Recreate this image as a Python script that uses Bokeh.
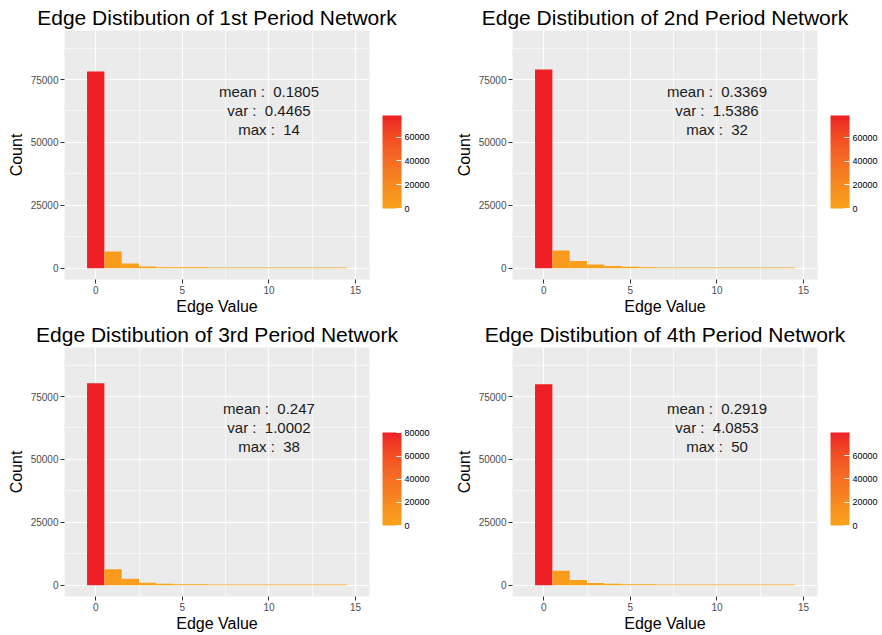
import numpy as np
from bokeh.plotting import figure
from bokeh.layouts import gridplot
from bokeh.models import ColumnDataSource, LinearColorMapper, ColorBar, FixedTicker, Label
from bokeh.transform import transform
from bokeh.core.properties import value
from bokeh.embed import file_html
from bokeh.resources import INLINE

# ---------------- data ----------------
edge_values = list(range(15))
counts_p1 = [78180, 6620, 1860, 680, 360, 340, 330, 320, 310, 300, 300, 290, 280, 280, 270]
counts_p2 = [78980, 7020, 2900, 1430, 910, 520, 330, 320, 310, 300, 300, 290, 280, 280, 270]
counts_p3 = [80290, 6350, 2510, 930, 530, 340, 330, 320, 310, 300, 300, 290, 280, 280, 270]
counts_p4 = [79890, 5690, 2100, 900, 520, 340, 330, 320, 310, 300, 300, 290, 280, 280, 270]
panel_counts = [counts_p1, counts_p2, counts_p3, counts_p4]
period_names = ["1st", "2nd", "3rd", "4th"]
means = ["0.1805", "0.3369", "0.247", "0.2919"]
variances = ["0.4465", "1.5386", "1.0002", "4.0853"]
maxima = ["14", "32", "38", "50"]
x_ticks = [0, 5, 10, 15]
x_minor = [2.5, 7.5, 12.5]
y_ticks = [0, 25000, 50000, 75000]
y_minor = [12500, 37500, 62500, 87500]
legend_step = 20000
legend_low = 0
x_lim = (-1, 15)
y_lim = (0, 90000)
ann_x, ann_y = 10, 62500

LOW = "#F8A31C"
HIGH = "#EE1F25"
FONT = "Liberation Sans"
NBSP = "\u00a0"


# ---------------- Lab gradient like ggplot ----------------
def hex2rgb(h):
    h = h.lstrip("#")
    return np.array([int(h[i:i + 2], 16) for i in (0, 2, 4)]) / 255.0


def srgb2lin(c):
    return np.where(c <= 0.04045, c / 12.92, ((c + 0.055) / 1.055) ** 2.4)


def lin2srgb(c):
    c = np.clip(c, 0, 1)
    return np.where(c <= 0.0031308, 12.92 * c, 1.055 * c ** (1 / 2.4) - 0.055)


M = np.array([[0.4124, 0.3576, 0.1805], [0.2126, 0.7152, 0.0722], [0.0193, 0.1192, 0.9505]])
Minv = np.linalg.inv(M)
WHITE = np.array([0.95047, 1.0, 1.08883])


def f(t):
    return np.where(t > (6 / 29) ** 3, np.cbrt(t), t / (3 * (6 / 29) ** 2) + 4 / 29)


def finv(t):
    return np.where(t > 6 / 29, t ** 3, 3 * (6 / 29) ** 2 * (t - 4 / 29))


def rgb2lab(rgb):
    xyz = M @ srgb2lin(rgb) / WHITE
    fx, fy, fz = f(xyz)
    return np.array([116 * fy - 16, 500 * (fx - fy), 200 * (fy - fz)])


def lab2hex(lab):
    L, a, b = lab
    fy = (L + 16) / 116
    xyz = np.array([finv(fy + a / 500), finv(fy), finv(fy - b / 200)]) * WHITE
    rgb = lin2srgb(Minv @ xyz)
    return "#%02x%02x%02x" % tuple(int(round(v * 255)) for v in rgb)


lab_lo, lab_hi = rgb2lab(hex2rgb(LOW)), rgb2lab(hex2rgb(HIGH))
palette = [lab2hex(lab_lo + (lab_hi - lab_lo) * t) for t in np.linspace(0, 1, 256)]


def expand(lim, frac=0.05):
    d = (lim[1] - lim[0]) * frac
    return (lim[0] - d, lim[1] + d)


FRAME_W, FRAME_H = 305, 249
CB_GAP, CB_W, CB_H, CB_BOTTOM = 13, 19, 93, 71


def make_panel(i, left_border, right_border, top_border, bottom_border):
    counts = panel_counts[i]
    xr, yr = expand(x_lim), expand(y_lim)
    p = figure(frame_width=FRAME_W, frame_height=FRAME_H,
               x_range=xr, y_range=yr,
               output_backend="svg", toolbar_location=None,
               min_border_left=left_border, min_border_right=right_border,
               min_border_top=top_border, min_border_bottom=bottom_border)
    p.title.text = "Edge Distibution of %s Period Network" % period_names[i]
    p.title.text_font = FONT
    p.title.text_font_size = "21px"
    p.title.text_font_style = "normal"
    p.title.align = "center"
    p.title.text_color = "black"
    p.title.standoff = 3
    p.title.offset = 0

    p.background_fill_color = "#EBEBEB"
    p.border_fill_color = "white"
    p.outline_line_color = None

    p.xaxis.ticker = FixedTicker(ticks=x_ticks, minor_ticks=x_minor)
    p.yaxis.ticker = FixedTicker(ticks=y_ticks, minor_ticks=y_minor)
    for g in (p.xgrid, p.ygrid):
        g.grid_line_color = "white"
        g.grid_line_width = 1.2
        g.minor_grid_line_color = "white"
        g.minor_grid_line_width = 0.6

    for ax in (p.xaxis, p.yaxis):
        ax.axis_line_color = None
        ax.major_tick_line_color = "#333333"
        ax.major_tick_out = 4
        ax.major_tick_in = 0
        ax.minor_tick_line_color = None
        ax.major_label_text_color = "#4D4D4D"
        ax.major_label_text_font = FONT
        ax.major_label_text_font_size = "10px"
        ax.major_label_standoff = 2
        ax.axis_label_text_font = FONT
        ax.axis_label_text_font_size = "16px"
        ax.axis_label_text_font_style = "normal"
        ax.axis_label_text_color = "black"
    p.xaxis.axis_label_standoff = 1
    p.yaxis.axis_label_standoff = 3
    p.xaxis.axis_label = "Edge Value"
    p.yaxis.axis_label = "Count"

    mapper = LinearColorMapper(palette=palette, low=legend_low, high=max(counts))
    src = ColumnDataSource(dict(
        left=[v - 0.5 for v in edge_values],
        right=[v + 0.5 for v in edge_values],
        top=counts,
        bottom=[0] * len(counts),
    ))
    p.quad(left="left", right="right", top="top", bottom="bottom", source=src,
           fill_color=transform("top", mapper), line_color=None)

    lines = ["mean :" + NBSP + " " + means[i],
             "var :" + NBSP + " " + variances[i],
             "max :" + NBSP + " " + maxima[i]]
    tsrc = ColumnDataSource(dict(x=[ann_x] * 3, y=[ann_y] * 3, text=lines, yoff=[-19, 0, 19]))
    p.text(x="x", y="y", text="text", y_offset="yoff", source=tsrc,
           text_align="center", text_baseline="middle",
           text_font_size="15px", text_color="#1A1A1A", text_font=value(FONT))

    leg_ticks = [t for t in range(0, 200001, legend_step) if t <= max(counts)]
    cb = ColorBar(color_mapper=mapper, ticker=FixedTicker(ticks=leg_ticks),
                  orientation="vertical",
                  width=CB_W, height=CB_H, location=(FRAME_W + CB_GAP, CB_BOTTOM),
                  major_label_text_font=FONT, major_label_text_font_size="9px",
                  major_label_text_color="black", label_standoff=3,
                  major_tick_line_color="white", major_tick_in=5, major_tick_out=0,
                  minor_tick_line_color=None, bar_line_color=None,
                  border_line_color=None, background_fill_color=None,
                  padding=0, margin=0)
    p.add_layout(cb, "center")
    p.add_layout(Label(x=xr[1], y=yr[0], x_offset=CB_GAP + 1, y_offset=CB_BOTTOM + CB_H + 4,
                       text="Count", text_font=FONT, text_font_size="11px",
                       text_color="black", text_baseline="bottom", text_align="left"))
    return p


panels = [make_panel(0, 64, 72, 30, 38), make_panel(1, 71, 64, 30, 38),
          make_panel(2, 64, 72, 30, 39), make_panel(3, 71, 64, 30, 39)]
grid = gridplot([[panels[0], panels[1]], [panels[2], panels[3]]], toolbar_location=None)

open("out.html", "w").write(file_html(grid, INLINE))
